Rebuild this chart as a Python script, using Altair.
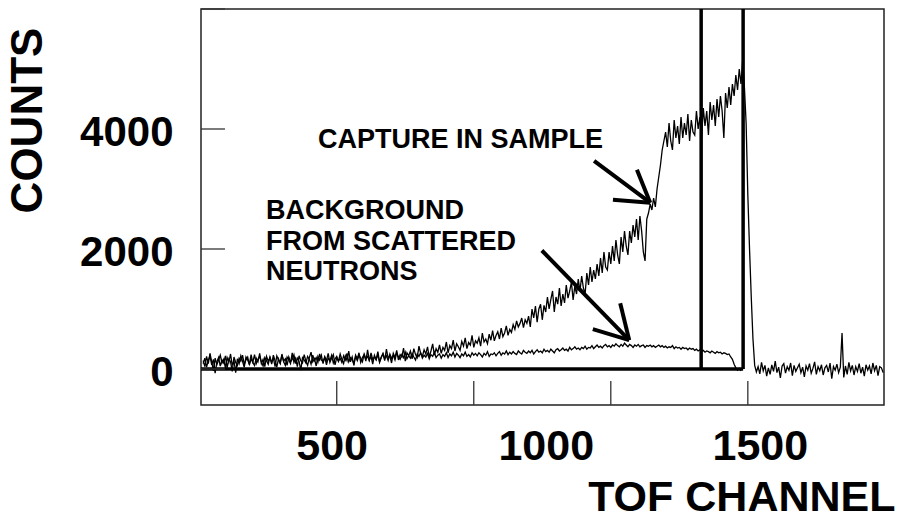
import altair as alt
import pandas as pd

FONT = "Liberation Sans"

# ---------------- data ----------------
# counts every 4 TOF channels, starting at channel 200
capture_start = 200
channel_step = 4
capture_counts = [
    140, 40, 210, 90, 260, 120, -30, 180, 70, 150,
    230, 100, 160, 20, 190, 110, 250, 60, 140, -60,
    170, 90, 220, 130, 30, 200, 150, 80, 240, 110,
    60, 180, 120, 260, 90, 160, 40, 210, 130, 190,
    80, 230, 140, 30, 170, 100, 250, 120, 60, 200,
    150, 90, 270, 110, 180, 40, 220, 140, 100, 240,
    130, 60, 190, 280, 120, 170, 50, 210, 150, 230,
    90, 200, 140, 260, 110, 180, 240, 70, 190, 130,
    250, 160, 90, 220, 140, 300, 120, 200, 60, 230,
    170, 270, 110, 190, 240, 130, 320, 150, 210, 80,
    230, 160, 290, 120, 200, 250, 140, 330, 180, 220,
    100, 260, 190, 310, 150, 240, 200, 350, 130, 270,
    220, 300, 170, 340, 240, 190, 380, 260, 210, 320,
    250, 370, 200, 300, 420, 230, 340, 280, 400, 260,
    360, 310, 450, 270, 390, 340, 480, 300, 420, 370,
    310, 460, 380, 520, 340, 440, 400, 560, 360, 470,
    430, 520, 380, 600, 450, 500, 420, 580, 480, 640,
    470, 560, 620, 500, 680, 540, 600, 720, 560, 660,
    610, 740, 660, 800, 700, 760, 850, 690, 820, 760,
    880, 700, 1000, 850, 1050, 780, 1000, 1080, 820, 1060,
    950, 1200, 1000, 1160, 1300, 950, 1200, 1080, 1350, 1050,
    1250, 1100, 1400, 1180, 1300, 1450, 1150, 1380, 1250, 1500,
    1300, 1550, 1350, 1250, 1600, 1400, 1700, 1450, 1650, 1500,
    1750, 1550, 1850, 1600, 1950, 1700, 1650, 1950, 1750, 2050,
    1800, 2150, 1900, 1750, 2200, 1950, 2300, 2050, 1900, 2300,
    2100, 2400, 2200, 2500, 2150, 2550, 2300, 1950, 1800, 2500,
    2600, 2750, 2650, 2850, 2700, 3000, 3200, 3400, 3650, 3800,
    3950, 3700, 4100, 3800, 3650, 4150, 3850, 4050, 3750, 4200,
    3850, 4100, 3900, 4250, 3800, 4150, 3950, 3900, 4300, 4000,
    4200, 3850, 4350, 4050, 4300, 3900, 4450, 4150, 4400, 4050,
    4500, 4200, 4550, 4300, 3850, 4600, 4350, 4700, 4400, 4750,
    4550, 4900, 4650, 5000, 4750, 5150, 4700, 4100, 2900, 2000,
    1200, 500, 60, -50, 40, -80, 110, -30, 60, -120,
    20, -90, 70, -40, 130, -60, 30, -150, 50, 90,
    -70, 40, -20, 100, -110, 60, -40, 20, 80, -60,
    30, -130, 50, -20, 90, -70, 10, 120, -90, 40,
    -30, 70, -100, 20, 60, -50, 100, -160, 40, -20,
    80, -60, 30, 600, -140, 50, -90, 110, -30, 60,
    -100, 40, -40, 90, -70, 30, -120, 70, -20, 50,
    -80, 100, -30, 60, -110, 40, 20, -60,
]
background_counts = [
    90, 180, 30, 140, 220, 70, 160, -70, 120, 190,
    50, 150, 100, 220, 20, 170, 120, -40, 200, 110,
    60, 180, 130, 230, 80, 150, 200, 70, 170, 110,
    240, 90, 160, 210, 120, 50, 190, 140, 80, 200,
    110, 180, 40, 220, 150, 90, 230, 130, 170, 60,
    200, 120, 160, 240, 90, 180, 130, -20, 190, 150,
    100, 210, 160, 80, 230, 140, 190, 110, 250, 150,
    120, 200, 70, 180, 140, 230, 100, 170, 210, 130,
    180, 110, 220, 150, 260, 120, 190, 160, 90, 210,
    140, 230, 180, 120, 250, 170, 210, 140, 270, 160,
    200, 150, 240, 110, 190, 260, 170, 220, 140, 250,
    180, 230, 150, 270, 200, 160, 240, 190, 280, 170,
    220, 180, 260, 200, 150, 250, 210, 270, 180, 230,
    200, 260, 170, 240, 210, 280, 190, 230, 250, 180,
    240, 210, 270, 190, 250, 220, 280, 200, 260, 230,
    190, 250, 220, 280, 210, 240, 200, 270, 230, 260,
    220, 270, 240, 200, 260, 230, 290, 210, 250, 240,
    270, 220, 260, 290, 230, 270, 250, 300, 240, 280,
    250, 290, 260, 240, 300, 270, 250, 310, 280, 260,
    300, 270, 310, 250, 290, 320, 280, 300, 270, 330,
    290, 310, 280, 330, 300, 270, 320, 340, 300, 320,
    350, 310, 330, 300, 360, 320, 340, 370, 330, 350,
    320, 360, 340, 380, 330, 360, 350, 390, 340, 370,
    400, 360, 380, 350, 390, 410, 370, 390, 360, 400,
    380, 420, 390, 370, 410, 380, 430, 400, 370, 410,
    390, 360, 400, 380, 410, 370, 390, 400, 360, 390,
    380, 400, 370, 390, 360, 380, 400, 370, 390, 360,
    380, 350, 370, 360, 390, 340, 370, 350, 360, 330,
    360, 340, 350, 320, 350, 330, 340, 310, 330, 300,
    320, 290, 310, 280, 300, 290, 270, 300, 280, 260,
    290, 270, 280, 250, 270, 260, 240, 250, 200, 160,
    80, 20, -20, 10, -30,
]

x_domain = [195, 1790]
y_domain = [-600, 6000]
x_label_values = [500, 1000, 1500]
y_label_values = [0, 2000, 4000]
x_tick_values = [512, 832, 1152, 1472]
y_tick_values = [0, 2000, 4000, 6000]
x_tick_len = [-600, -200]
y_tick_len = [195, 251]

gate_channels = [1363, 1461]
baseline_span = [195, 1461]

note_texts = ["CAPTURE IN SAMPLE", "BACKGROUND", "FROM SCATTERED", "NEUTRONS"]
note_x = [468, 347, 347, 347]
note_y = [3817, 2639, 2124, 1610]

arrow_x = [1113, 1244, 1244, 991, 1195, 1195]
arrow_y = [3469, 2772, 2772, 1975, 481, 481]
arrow_x2 = [1244, 1213, 1157, 1195, 1174, 1110]
arrow_y2 = [2772, 3320, 2822, 481, 1095, 664]

# ---------------- tables ----------------
cap_df = pd.DataFrame({
    "ch": [capture_start + channel_step * i for i in range(len(capture_counts))],
    "counts": capture_counts,
})
bg_df = pd.DataFrame({
    "ch": [capture_start + channel_step * i for i in range(len(background_counts))],
    "counts": background_counts,
})
gate_df = pd.DataFrame({"ch": gate_channels, "y0": [0] * 2, "y1": [6000] * 2})
base_df = pd.DataFrame({"x0": [baseline_span[0]], "x1": [baseline_span[1]], "y": [0]})
xt_df = pd.DataFrame({"x": x_tick_values, "y0": [x_tick_len[0]] * 4, "y1": [x_tick_len[1]] * 4})
yt_df = pd.DataFrame({"y": y_tick_values, "x0": [y_tick_len[0]] * 4, "x1": [y_tick_len[1]] * 4})
note_df = pd.DataFrame({"t": note_texts, "x": note_x, "y": note_y})
arrow_df = pd.DataFrame({"x": arrow_x, "y": arrow_y, "x2": arrow_x2, "y2": arrow_y2})

xs = alt.Scale(domain=x_domain, nice=False, zero=False)
ys = alt.Scale(domain=y_domain, nice=False, zero=False)

x_axis = alt.Axis(
    values=x_label_values, ticks=False, domain=False, grid=False, format="d",
    labelFont=FONT, labelFontWeight="bold", labelColor="black",
    labelFontSize=43, labelPadding=41, labelBaseline="middle",
    title="TOF CHANNEL", titleFont=FONT, titleFontWeight="bold", titleColor="black",
    titleFontSize=43, titleX=694, titleY=105,
    titleAlign="right", titleBaseline="alphabetic",
)
y_axis = alt.Axis(
    values=y_label_values, ticks=False, domain=False, grid=False, format="d",
    labelFont=FONT, labelFontWeight="bold", labelColor="black",
    labelFontSize=42, labelPadding=28, labelBaseline="middle", labelOffset=3,
    title="COUNTS", titleFont=FONT, titleFontWeight="bold", titleColor="black",
    titleFontSize=44, titleAngle=270, titleX=-173, titleY=111,
    titleAlign="center", titleBaseline="middle",
)


def X(field):
    return alt.X(field, type="quantitative", scale=xs, axis=x_axis, title="TOF CHANNEL")


def Y(field):
    return alt.Y(field, type="quantitative", scale=ys, axis=y_axis, title="COUNTS")


capture = alt.Chart(cap_df).mark_line(color="black", strokeWidth=1.3).encode(
    x=X("ch"), y=Y("counts"),
)
background = alt.Chart(bg_df).mark_line(color="black", strokeWidth=1.3).encode(
    x=X("ch"), y=Y("counts"),
)
baseline = alt.Chart(base_df).mark_rule(color="black", strokeWidth=3.5).encode(
    x=X("x0"), x2="x1:Q", y=Y("y"),
)
gates = alt.Chart(gate_df).mark_rule(color="black", strokeWidth=3.5).encode(
    x=X("ch"), y=Y("y0"), y2="y1:Q",
)
xticks = alt.Chart(xt_df).mark_rule(color="#333", strokeWidth=1.3).encode(
    x=X("x"), y=Y("y0"), y2="y1:Q",
)
yticks = alt.Chart(yt_df).mark_rule(color="#333", strokeWidth=1.3).encode(
    x=X("x0"), x2="x1:Q", y=Y("y"),
)
arrows = alt.Chart(arrow_df).mark_rule(color="black", strokeWidth=4).encode(
    x=X("x"), x2="x2:Q", y=Y("y"), y2="y2:Q",
)
notes = alt.Chart(note_df).mark_text(
    font=FONT, fontWeight="bold", fontSize=27, align="left", baseline="middle", color="black"
).encode(
    x=X("x"), y=Y("y"), text="t:N",
)

chart = alt.layer(
    capture, background, baseline, gates, xticks, yticks, arrows, notes
).properties(
    width=683, height=396,
    background="white",
    autosize=alt.AutoSizeParams(type="none"),
    padding={"left": 201, "top": 9, "right": 14, "bottom": 114},
).configure_view(
    stroke="#222", strokeWidth=1.5
)

chart.save("out.html", embed_options={"renderer": "svg", "actions": False})
